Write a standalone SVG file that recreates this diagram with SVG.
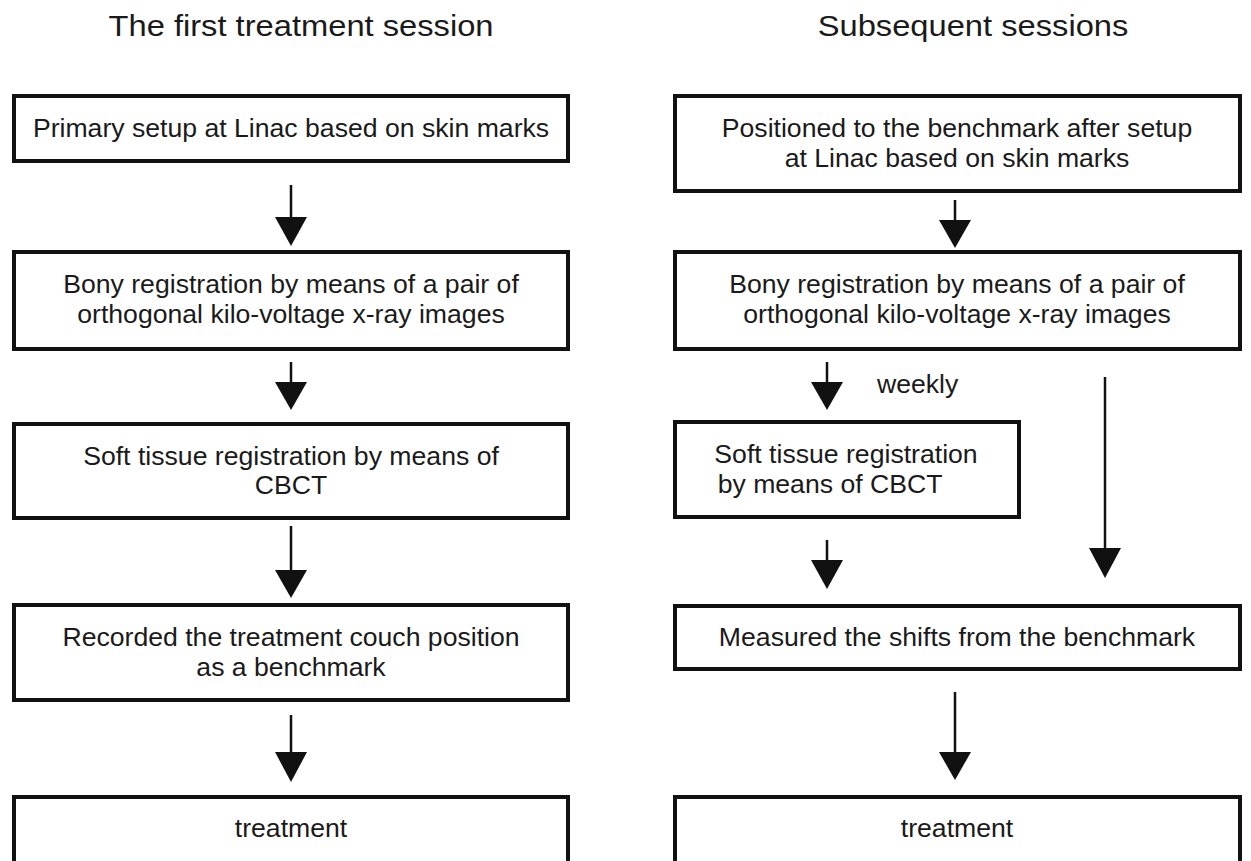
<svg xmlns="http://www.w3.org/2000/svg" width="1251" height="861" viewBox="0 0 1251 861">
<style>
.box{fill:#fff;stroke:#111;stroke-width:4}
.t{font-family:"Liberation Sans",Arial,sans-serif;font-size:25px;fill:#1a1a1a;text-anchor:middle}
.h{font-family:"Liberation Sans",Arial,sans-serif;font-size:30px;fill:#1a1a1a;text-anchor:middle}
.w{font-family:"Liberation Sans",Arial,sans-serif;font-size:25px;fill:#1a1a1a}
.c{stroke:#111;stroke-width:2.5;fill:none}
.hd{fill:#111}
</style>
<rect width="1251" height="861" fill="#fff"/>
<g id="titles">
<text class="h" transform="translate(301,36) scale(1.09,1)">The first treatment session</text>
<text class="h" transform="translate(973,36) scale(1.09,1)">Subsequent sessions</text>
</g>
<g id="connectors">
<line class="c" x1="291" y1="185" x2="291" y2="220"/><polygon class="hd" points="275,217 307,217 291,246"/>
<line class="c" x1="291" y1="362" x2="291" y2="385"/><polygon class="hd" points="275,382 307,382 291,410"/>
<line class="c" x1="291" y1="526" x2="291" y2="573"/><polygon class="hd" points="275,570 307,570 291,598"/>
<line class="c" x1="291" y1="715" x2="291" y2="755"/><polygon class="hd" points="275,752 307,752 291,782"/>
<line class="c" x1="955" y1="200" x2="955" y2="223"/><polygon class="hd" points="939,220 971,220 955,248"/>
<line class="c" x1="827" y1="362" x2="827" y2="385"/><polygon class="hd" points="811,382 843,382 827,410"/>
<line class="c" x1="827" y1="540" x2="827" y2="563"/><polygon class="hd" points="811,560 843,560 827,589"/>
<line class="c" x1="1105" y1="377" x2="1105" y2="551"/><polygon class="hd" points="1089,548 1121,548 1105,578"/>
<line class="c" x1="955" y1="692" x2="955" y2="755"/><polygon class="hd" points="939,752 971,752 955,780"/>
<text class="w" transform="translate(877,393) scale(1.065,1)">weekly</text>
</g>
<g id="L1"><rect class="box" x="14" y="96" width="554" height="65"/>
<text class="t" transform="translate(291,137) scale(1.065,1)">Primary setup at Linac based on skin marks</text></g>
<g id="L2"><rect class="box" x="14" y="252" width="554" height="97"/>
<text class="t" transform="translate(291,293) scale(1.065,1)"><tspan x="0" y="0">Bony registration by means of a pair of</tspan><tspan x="0" y="30">orthogonal kilo-voltage x-ray images</tspan></text></g>
<g id="L3"><rect class="box" x="14" y="424" width="554" height="94"/>
<text class="t" transform="translate(291,465) scale(1.065,1)"><tspan x="0" y="0">Soft tissue registration by means of</tspan><tspan x="0" y="29">CBCT</tspan></text></g>
<g id="L4"><rect class="box" x="14" y="605" width="554" height="95"/>
<text class="t" transform="translate(291,646) scale(1.065,1)"><tspan x="0" y="0">Recorded the treatment couch position</tspan><tspan x="0" y="30">as a benchmark</tspan></text></g>
<g id="L5"><rect class="box" x="14" y="797" width="554" height="80"/>
<text class="t" transform="translate(291,837) scale(1.065,1)">treatment</text></g>
<g id="R1"><rect class="box" x="675" y="96" width="565" height="95"/>
<text class="t" transform="translate(957,137) scale(1.065,1)"><tspan x="0" y="0">Positioned to the benchmark after setup</tspan><tspan x="0" y="30">at Linac based on skin marks</tspan></text></g>
<g id="R2"><rect class="box" x="675" y="252" width="565" height="97"/>
<text class="t" transform="translate(957,293) scale(1.065,1)"><tspan x="0" y="0">Bony registration by means of a pair of</tspan><tspan x="0" y="30">orthogonal kilo-voltage x-ray images</tspan></text></g>
<g id="R3"><rect class="box" x="675" y="422" width="344" height="95"/>
<text class="t" transform="translate(846,463) scale(1.065,1)"><tspan x="0" y="0">Soft tissue registration</tspan><tspan x="-15" y="30">by means of CBCT</tspan></text></g>
<g id="R4"><rect class="box" x="675" y="606" width="565" height="63"/>
<text class="t" transform="translate(957,646) scale(1.065,1)">Measured the shifts from the benchmark</text></g>
<g id="R5"><rect class="box" x="675" y="797" width="565" height="80"/>
<text class="t" transform="translate(957,837) scale(1.065,1)">treatment</text></g>
</svg>
